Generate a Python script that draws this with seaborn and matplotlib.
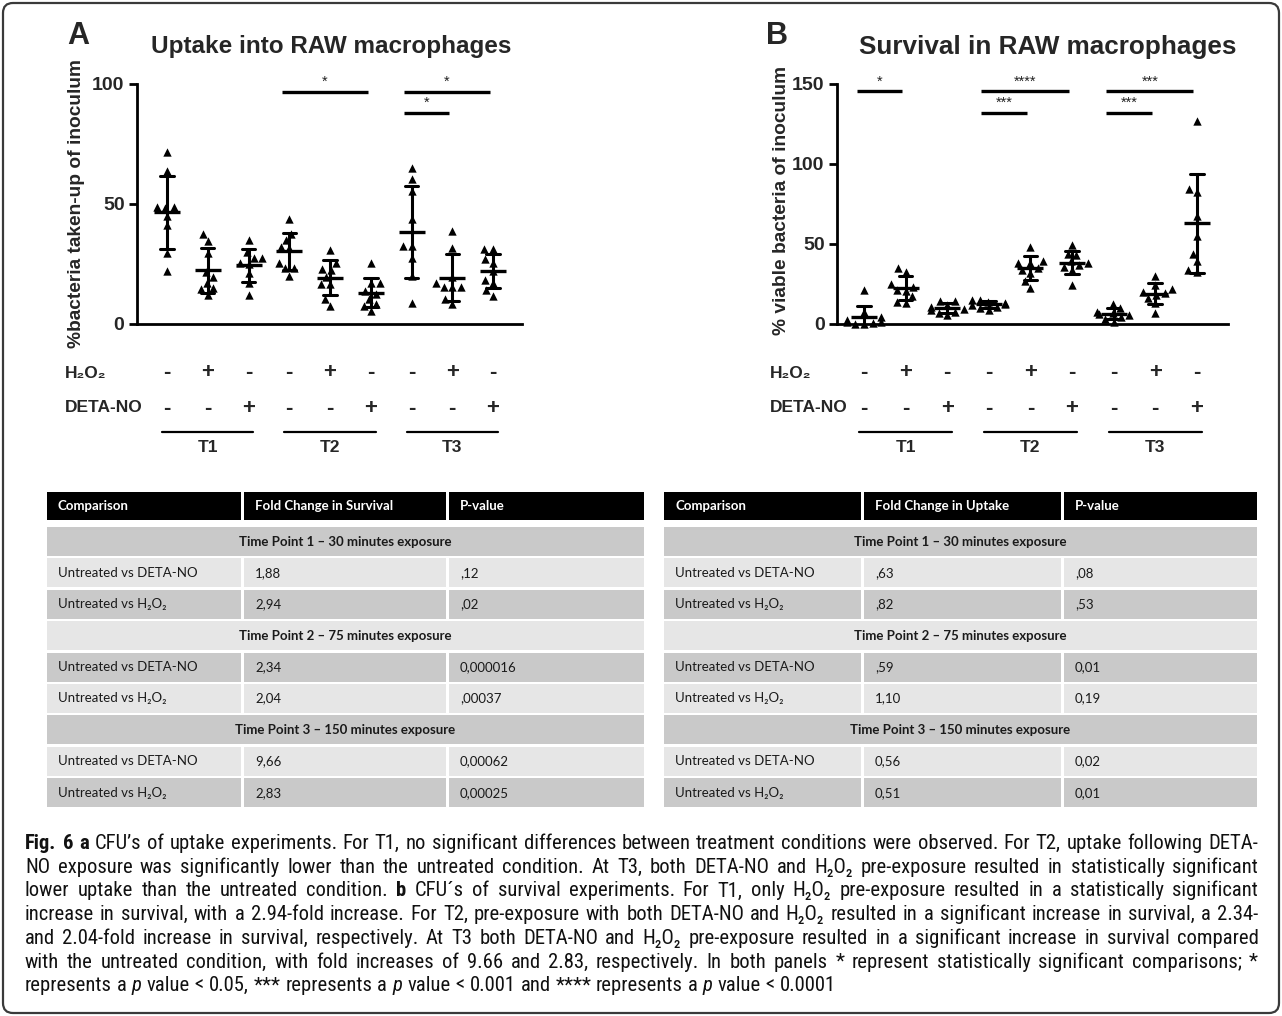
import warnings
import numpy as np
import pandas as pd
import seaborn as sns
import matplotlib
matplotlib.use("Agg")
import matplotlib.pyplot as plt
from matplotlib import transforms, font_manager
from matplotlib.patches import Rectangle, FancyBboxPatch

warnings.filterwarnings("ignore")

W, H = 1282, 1016

# ---------------- data ----------------
group_names = ["T1 untreated", "T1 H2O2", "T1 DETA-NO",
               "T2 untreated", "T2 H2O2", "T2 DETA-NO",
               "T3 untreated", "T3 H2O2", "T3 DETA-NO"]
time_points = ["T1", "T2", "T3"]
h2o2_signs = ["-", "+", "-", "-", "+", "-", "-", "+", "-"]
deta_signs = ["-", "-", "+", "-", "-", "+", "-", "-", "+"]

uptake = [
    [71.5, 63.7, 48.6, 48.6, 48.2, 44.8, 41.1, 29.6, 22.1],
    [34.5, 37.3, 29.6, 21.8, 19.7, 17.2, 14.8, 14.4, 12.0],
    [34.8, 29.9, 27.7, 27.7, 25.4, 24.9, 21.1, 17.2, 12.0],
    [43.9, 37.7, 34.9, 32.1, 31.7, 25.6, 23.2, 23.2, 20.1],
    [31.0, 25.4, 22.8, 22.5, 19.7, 16.6, 16.6, 10.6, 7.7],
    [25.4, 16.9, 16.9, 13.7, 12.7, 10.6, 8.5, 7.7, 5.6],
    [65.2, 60.6, 55.6, 43.9, 32.4, 32.4, 27.5, 20.0, 8.7],
    [38.7, 31.7, 19.7, 17.2, 15.5, 15.5, 15.5, 10.6, 8.5],
    [31.4, 31.1, 27.2, 25.5, 22.0, 18.5, 17.1, 14.0, 11.8],
]
survival = [
    [21.3, 7.7, 4.6, 2.5, 1.5, 1.0, 0.5, 0.3, 0.2],
    [32.8, 34.9, 25.0, 23.4, 21.3, 20.9, 17.2, 14.0, 13.4],
    [14.4, 14.4, 11.9, 10.5, 9.2, 8.8, 7.5, 6.7, 5.6],
    [15.0, 15.0, 14.0, 13.0, 12.5, 11.9, 10.9, 9.8, 8.8],
    [48.1, 39.1, 38.1, 38.1, 34.9, 33.5, 32.0, 26.6, 22.4],
    [49.6, 43.9, 43.3, 39.1, 38.1, 37.0, 35.6, 33.9, 24.5],
    [12.6, 9.8, 7.7, 7.1, 6.3, 5.6, 4.6, 2.9, 1.5],
    [30.3, 24.5, 21.8, 20.3, 19.2, 18.2, 16.1, 13.0, 7.1],
    [127.0, 84.1, 82.4, 67.4, 55.2, 43.9, 39.1, 33.5, 32.8],
]

uptake_pairs = [(3, 5), (6, 8), (6, 7)]
uptake_stars = ["*", "*", "*"]
survival_pairs = [(0, 1), (3, 5), (3, 4), (6, 8), (6, 7)]
survival_stars = ["*", "****", "***", "***", "***"]

comparisons = ["Untreated vs DETA-NO", "Untreated vs H₂O₂"]
time_sections = ["Time Point 1 – 30 minutes exposure",
                 "Time Point 2 – 75 minutes exposure",
                 "Time Point 3 – 150 minutes exposure"]
survival_fold = ["1,88", "2,94", "2,34", "2,04", "9,66", "2,83"]
survival_p = [",12", ",02", "0,000016", ",00037", "0,00062", "0,00025"]
uptake_fold = [",63", ",82", ",59", "1,10", "0,56", "0,51"]
uptake_p = [",08", ",53", "0,01", "0,19", "0,02", "0,01"]

caption_lines = [
    "{b}Fig. {b}6 {b}a CFU’s of uptake experiments. For T1, no significant differences between treatment conditions were observed. For T2, uptake following DETA-",
    "NO exposure was significantly lower than the untreated condition. At T3, both DETA-NO and H₂O₂ pre-exposure resulted in statistically significant",
    "lower uptake than the untreated condition. {b}b CFU´s of survival experiments. For T1, only H₂O₂ pre-exposure resulted in a statistically significant",
    "increase in survival, with a 2.94-fold increase. For T2, pre-exposure with both DETA-NO and H₂O₂ resulted in a significant increase in survival, a 2.34-",
    "and 2.04-fold increase in survival, respectively. At T3 both DETA-NO and H₂O₂ pre-exposure resulted in a significant increase in survival compared",
    "with the untreated condition, with fold increases of 9.66 and 2.83, respectively. In both panels * represent statistically significant comparisons; *",
    "represents a {i}p value < 0.05, *** represents a {i}p value < 0.001 and **** represents a {i}p value < 0.0001",
]

# ---------------- style ----------------
sns.set_style("ticks")
ARIAL = ["Liberation Sans", "DejaVu Sans"]
plt.rcParams["font.family"] = ARIAL
avail = {f.name for f in font_manager.fontManager.ttflist}
table_font = ["Lato", "DejaVu Sans"] if "Lato" in avail else ARIAL
cap_name = next((f for f in ["Liberation Sans Narrow", "Roboto Condensed", "Open Sans Condensed"]
                 if f in avail), "Roboto")
cap_font = [cap_name, "DejaVu Sans"]

fig = plt.figure(figsize=(W / 100, H / 100), dpi=100)
over = fig.add_axes([0, 0, 1, 1])
over.set_xlim(0, W)
over.set_ylim(H, 0)
over.axis("off")


def px_axes(left, right, top, bottom):
    return fig.add_axes([left / W, 1 - bottom / H, (right - left) / W, (bottom - top) / H])


def draw_panel(ax, values, ymax, yticks, xlim, pairs, stars, bar_y):
    df = pd.DataFrame({
        "group": np.repeat(group_names, [len(v) for v in values]),
        "value": np.concatenate(values),
    })
    sns.swarmplot(data=df, x="group", y="value", order=group_names,
                  marker="^", color="black", size=6, ax=ax)
    for c in ax.collections:
        c.set_clip_on(False)
    sns.pointplot(data=df, x="group", y="value", order=group_names,
                  errorbar="sd", capsize=0.33, linestyle="none",
                  marker="_", markersize=19, markeredgewidth=2.4,
                  color="black", err_kws={"linewidth": 2.2}, ax=ax)
    ax.set_xlim(*xlim)
    ax.set_ylim(0, ymax)
    sns.despine(ax=ax)
    for s in ["left", "bottom"]:
        ax.spines[s].set_linewidth(2)
        ax.spines[s].set_color("black")
    ax.set_xticks([])
    ax.set_yticks(yticks, labels=[str(t) for t in yticks], fontweight="bold")
    ax.tick_params(axis="y", length=6, width=2, labelsize=14, pad=3, color="black")
    ax.set_xlabel("")
    ax.set_ylabel("")
    ax.set_facecolor("none")

    # significance bars
    for (a, b), st, y in zip(pairs, stars, bar_y):
        ax.plot([a - 0.18, b - 0.08], [y, y], color="black", lw=2.4, clip_on=False,
                solid_capstyle="butt")
        ax.text((a + b) / 2 - 0.13, y + ymax * 0.012, st, ha="center", va="bottom",
                fontsize=10.5, color="#222222")

    # treatment rows below the axis
    tr = transforms.blended_transform_factory(ax.transData, over.transData)
    for i in range(len(group_names)):
        ax.text(i, 372, h2o2_signs[i], transform=tr, ha="center", va="center",
                fontsize=16, fontweight="bold")
        ax.text(i, 408, deta_signs[i], transform=tr, ha="center", va="center",
                fontsize=16, fontweight="bold")
    for k, tp in enumerate(time_points):
        ax.plot([3 * k - 0.12, 3 * k + 2.12], [432, 432], transform=tr,
                color="black", lw=1.6, clip_on=False)
        ax.text(3 * k + 1, 448, tp, transform=tr, ha="center", va="center",
                fontsize=12.5, fontweight="bold")


# ---------------- panel A ----------------
axA = px_axes(137, 522, 84, 324)
draw_panel(axA, uptake, 100, [0, 50, 100], (-0.736, 8.71),
           uptake_pairs, uptake_stars, [96.7, 96.7, 88])
over.text(67, 36, "A", fontsize=22, fontweight="bold", va="center", ha="left")
over.text(331, 47, "Uptake into RAW macrophages", fontsize=17.5, fontweight="bold",
          ha="center", va="center")
over.text(77, 203, "%bacteria taken-up of inoculum", rotation=90, fontsize=13.8,
          fontweight="bold", ha="center", va="center")
over.text(65, 374, "H₂O₂", fontsize=12.5, fontweight="bold", va="center", family=ARIAL)
over.text(65, 408, "DETA-NO", fontsize=12.5, fontweight="bold", va="center")

# ---------------- panel B ----------------
axB = px_axes(837, 1228, 84, 324)
draw_panel(axB, survival, 150, [0, 50, 100, 150], (-0.65, 8.75),
           survival_pairs, survival_stars, [145.5, 145.5, 132, 145.5, 132])
over.text(766, 36, "B", fontsize=22, fontweight="bold", va="center", ha="left")
over.text(1048, 47, "Survival in RAW macrophages", fontsize=18.8, fontweight="bold",
          ha="center", va="center")
over.text(782, 200, "% viable bacteria of inoculum", rotation=90, fontsize=13.8,
          fontweight="bold", ha="center", va="center")
over.text(770, 374, "H₂O₂", fontsize=12.5, fontweight="bold", va="center", family=ARIAL)
over.text(770, 408, "DETA-NO", fontsize=12.5, fontweight="bold", va="center")

# ---------------- tables ----------------
DARK, LIGHT = "#c9c9c9", "#e6e6e6"


def draw_table(edges, fold_header, folds, pvals):
    x0, x1, x2, x3 = edges
    g = 1.5
    for a, b, lab in [(x0, x1, "Comparison"), (x1, x2, fold_header), (x2, x3, "P-value")]:
        over.add_patch(Rectangle((a + g, 492), b - a - 2 * g, 28, color="black", lw=0))
        over.text(a + 13, 506, lab, color="white", fontweight="bold", fontsize=9.5,
                  va="center", family=table_font)
    y = 527
    pitch, hgt = 31.4, 29
    k = 0
    for s, section in enumerate(time_sections):
        shade = DARK if k % 2 == 0 else LIGHT
        over.add_patch(Rectangle((x0 + g, y), x3 - x0 - 2 * g, hgt, color=shade, lw=0))
        over.text((x0 + x3) / 2, y + hgt / 2, section, ha="center", va="center",
                  fontweight="bold", fontsize=9.5, family=table_font, color="#1a1a1a")
        k += 1
        y += pitch
        for j, comp in enumerate(comparisons):
            idx = 2 * s + j
            shade = DARK if k % 2 == 0 else LIGHT
            for a, b, lab in [(x0, x1, comp), (x1, x2, folds[idx]), (x2, x3, pvals[idx])]:
                over.add_patch(Rectangle((a + g, y), b - a - 2 * g, hgt, color=shade, lw=0))
                over.text(a + 13, y + hgt / 2, lab, va="center", fontsize=9.5,
                          family=table_font, color="#1a1a1a")
            k += 1
            y += pitch


draw_table((45, 242, 447, 645), "Fold Change in Survival", survival_fold, survival_p)
draw_table((662, 862, 1062, 1258), "Fold Change in Uptake", uptake_fold, uptake_p)

# ---------------- caption (justified) ----------------
fig.canvas.draw()
renderer = fig.canvas.get_renderer()
cap_x0, cap_x1 = 25, 1258
base_size = 13.5
line_texts = []
for li, line in enumerate(caption_lines):
    items = []
    for w in line.split():
        kw = {}
        if w.startswith("{b}"):
            w, kw = w[3:], {"fontweight": "bold"}
        elif w.startswith("{i}"):
            w, kw = w[3:], {"fontstyle": "italic"}
        t = over.text(0, 849 + li * 23.7, w, fontsize=base_size, family=cap_font,
                      va="baseline", ha="left", color="#111111", **kw)
        items.append(t)
    line_texts.append(items)

space = 0.25 * base_size * 100 / 72
widths = [[t.get_window_extent(renderer).width for t in items] for items in line_texts]
natural = max(sum(w) + space * (len(w) - 1) for w in widths[:-1])
scale = (cap_x1 - cap_x0) / natural * 0.985
for li, items in enumerate(line_texts):
    ws = [w * scale for w in widths[li]]
    for t in items:
        t.set_fontsize(base_size * scale)
    if li < len(line_texts) - 1:
        gap = (cap_x1 - cap_x0 - sum(ws)) / (len(ws) - 1)
    else:
        gap = space * scale
    x = cap_x0
    for t, w in zip(items, ws):
        t.set_x(x)
        x += w + gap

# outer frame
over.add_patch(FancyBboxPatch((3, 3), W - 6, H - 6, boxstyle="round,pad=0,rounding_size=10",
                              fill=False, ec="#3a3a3a", lw=1.6))

fig.savefig("out.png", dpi=100)
